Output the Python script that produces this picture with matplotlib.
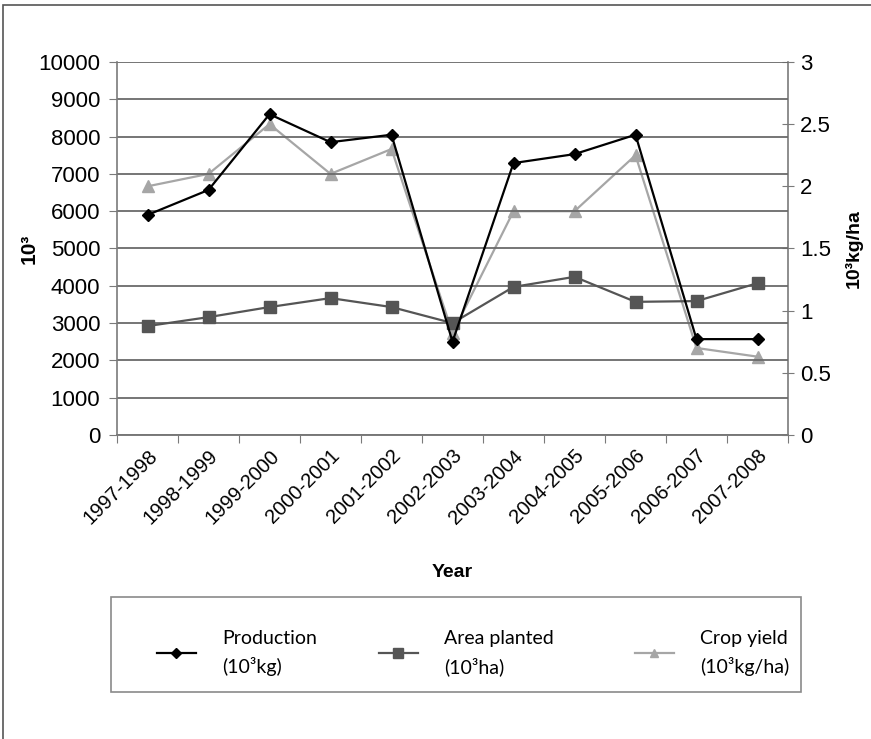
import matplotlib
matplotlib.use("Agg")
import matplotlib.pyplot as plt
from matplotlib.lines import Line2D
from matplotlib.patches import Rectangle

# ── data ─────────────────────────────────────────────────────────────────────
years = ["1997-1998", "1998-1999", "1999-2000", "2000-2001", "2001-2002",
         "2002-2003", "2003-2004", "2004-2005", "2005-2006", "2006-2007",
         "2007-2008"]
production = [5900, 6570, 8600, 7850, 8050, 2500, 7290, 7530, 8050, 2570, 2570]
area_planted = [2920, 3160, 3430, 3670, 3430, 3000, 3970, 4240, 3570, 3590, 4070]
crop_yield = [2.0, 2.1, 2.5, 2.1, 2.3, 0.82, 1.8, 1.8, 2.25, 0.70, 0.63]
yield_ticks = [0, 0.5, 1, 1.5, 2, 2.5, 3]
yield_ticklabels = ["0", "0.5", "1", "1.5", "2", "2.5", "3"]

plt.rcParams["font.family"] = ["Liberation Sans", "DejaVu Sans"]

C_PROD = "#000000"
C_AREA = "#555555"
C_YIELD = "#a6a6a6"
C_AXIS = "#7a7a7a"
W, H = 871, 739

fig = plt.figure(figsize=(W / 100, H / 100), dpi=100)
ax = fig.add_axes([117 / W, 1 - 435 / H, (788 - 117) / W, (435 - 62) / H])
ax2 = ax.twinx()

x = list(range(len(years)))
ax.plot(x, production, color=C_PROD, lw=1.6, marker="D", ms=6, zorder=4)
ax.plot(x, area_planted, color=C_AREA, lw=1.6, marker="s", ms=8, zorder=3)
ax2.plot(x, crop_yield, color=C_YIELD, lw=1.6, marker="^", ms=8, zorder=2)
ax.set_zorder(ax2.get_zorder() + 1)
ax.patch.set_visible(False)

ax.set_xlim(-0.5, len(years) - 0.5)
ax.set_ylim(0, 10000)
ax2.set_ylim(0, 3)
ax.set_yticks(range(0, 10001, 1000))
ax2.set_yticks(yield_ticks)
ax2.set_yticklabels(yield_ticklabels)

# category ticks sit between the groups (Excel style)
ax.set_xticks([i - 0.5 for i in range(len(years) + 1)])
ax.set_xticklabels([])
ax.set_xticks(x, minor=True)
ax.set_xticklabels(years, minor=True, rotation=45, ha="right",
                   rotation_mode="anchor", fontsize=14.5)
ax.tick_params(axis="x", which="minor", length=0, pad=8)
ax.tick_params(axis="x", which="major", length=6, color=C_AXIS, direction="out")

ax.grid(axis="y", color="#6a6a6a", lw=1.3)
ax.set_axisbelow(True)
ax.tick_params(axis="y", labelsize=16, length=6, color=C_AXIS, pad=6)
ax2.tick_params(axis="y", labelsize=16, length=9, color=C_AXIS, pad=4,
                direction="inout")

for a in (ax, ax2):
    a.spines["top"].set_visible(False)
    for s in ("left", "right", "bottom"):
        a.spines[s].set_color(C_AXIS)
        a.spines[s].set_linewidth(1.2)
ax.spines["right"].set_visible(False)
ax2.spines["left"].set_visible(False)

ax.set_ylabel("10³", fontsize=15, fontweight="bold", labelpad=0)
ax2.set_ylabel("10³kg/ha", fontsize=14, fontweight="bold", labelpad=10)
ax.set_xlabel("Year", fontsize=14, fontweight="bold", labelpad=26)

# legend: three entries spread across a framed box, like the Excel original
entries = [
    (Line2D([], [], color=C_PROD, lw=1.6, marker="D", ms=5), "Production\n(10³kg)", 157),
    (Line2D([], [], color=C_AREA, lw=1.6, marker="s", ms=7), "Area planted\n(10³ha)", 379),
    (Line2D([], [], color=C_YIELD, lw=1.6, marker="^", ms=6), "Crop yield\n(10³kg/ha)", 635),
]
for handle, label, left in entries:
    leg = fig.legend([handle], [label], loc="center left",
                     bbox_to_anchor=(left / W, 1 - 653 / H),
                     frameon=False, handlelength=2.0, handletextpad=1.35,
                     borderpad=0, borderaxespad=0,
                     prop={"family": ["Lato", "DejaVu Sans"], "size": 14})
    for t in leg.get_texts():
        t.set_linespacing(1.6)
fig.patches.append(Rectangle((111 / W, 1 - 692 / H), (801 - 111) / W,
                             (692 - 597) / H, transform=fig.transFigure,
                             fill=False, edgecolor="#8a8a8a", lw=1.2))
# outer frame (right/bottom edges fall outside the picture)
fig.patches.append(Rectangle((3 / W, -0.05), 1.0, 1.05 - 5 / H,
                             transform=fig.transFigure, fill=False,
                             edgecolor="#555555", lw=1.2))

fig.savefig("out.png", dpi=100)
